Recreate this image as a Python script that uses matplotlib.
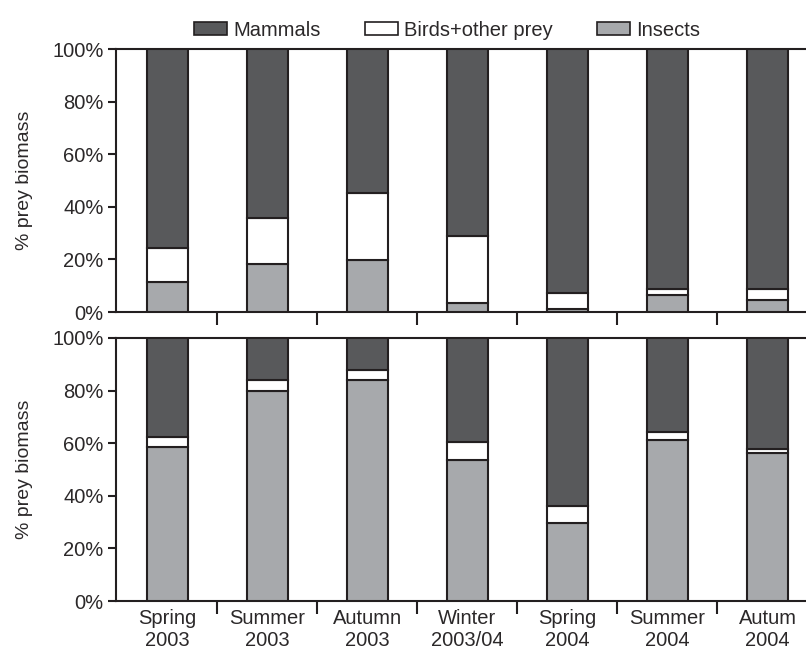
import matplotlib
matplotlib.use("Agg")
import matplotlib.pyplot as plt
import numpy as np
from matplotlib.patches import Patch
from matplotlib.ticker import FixedLocator

plt.rcParams["font.family"] = ["Liberation Sans Narrow", "Liberation Sans", "DejaVu Sans"]

seasons = ["Spring\n2003", "Summer\n2003", "Autumn\n2003", "Winter\n2003/04",
           "Spring\n2004", "Summer\n2004", "Autum\n2004"]

# % prey biomass per season, upper panel
top_insects = [11.3, 18.1, 19.9, 3.4, 1.3, 6.4, 4.7]
top_birds = [13.1, 17.7, 25.5, 25.5, 6.0, 2.5, 4.2]

# lower panel
bot_insects = [58.6, 79.8, 84.1, 53.5, 29.8, 61.4, 56.3]
bot_birds = [3.7, 4.2, 3.6, 7.0, 6.3, 2.7, 1.6]

labels = ["Mammals", "Birds+other prey", "Insects"]
colors = {"Mammals": "#58595b", "Birds+other prey": "#ffffff", "Insects": "#a7a9ac"}
EDGE = "#231f20"
TEXT = "#2b2829"


def draw_panel(ax, insects, birds, show_labels):
    x = np.arange(len(seasons))
    insects = np.array(insects)
    birds = np.array(birds)
    mammals = 100 - insects - birds
    kw = dict(width=0.41, edgecolor=EDGE, linewidth=1.5, zorder=3)
    ax.bar(x, insects, color=colors["Insects"], **kw)
    ax.bar(x, birds, bottom=insects, color=colors["Birds+other prey"], **kw)
    ax.bar(x, mammals, bottom=insects + birds, color=colors["Mammals"], **kw)

    ax.set_xlim(-0.515, 6.385)
    ax.set_ylim(0, 100)
    ax.set_yticks([0, 20, 40, 60, 80, 100])
    ax.set_yticklabels([f"{v}%" for v in range(0, 101, 20)])
    ax.set_ylabel("% prey biomass", fontsize=14, color=TEXT, labelpad=14)

    ax.set_xticks(x)
    ax.xaxis.set_minor_locator(FixedLocator(np.arange(0.5, 6, 1.0)))
    ax.tick_params(axis="x", which="major", length=0, pad=6, labelsize=14.5)
    ax.tick_params(axis="x", which="minor", length=9, width=1.5, color=EDGE, direction="out")
    ax.tick_params(axis="y", length=6, width=1.5, color=EDGE, direction="out", labelsize=14.5,
                   labelcolor=TEXT, pad=3)
    if show_labels:
        ax.set_xticklabels(seasons, linespacing=1.2, color=TEXT)
    else:
        ax.set_xticklabels([])

    ax.spines["right"].set_visible(False)
    for side in ("left", "top", "bottom"):
        ax.spines[side].set_color(EDGE)
        ax.spines[side].set_linewidth(1.5)


fig = plt.figure(figsize=(8.06, 6.51), dpi=100)
ax_top = fig.add_axes([0.1439, 0.5207, 0.8561, 0.404])
ax_bot = fig.add_axes([0.1439, 0.0768, 0.8561, 0.404])

draw_panel(ax_top, top_insects, top_birds, show_labels=False)
draw_panel(ax_bot, bot_insects, bot_birds, show_labels=True)

handles = [Patch(facecolor=colors[l], edgecolor=EDGE, linewidth=1.2) for l in labels]
ax_top.legend(handles, labels, loc="lower center", bbox_to_anchor=(0.48, 0.99),
              ncol=3, frameon=False, fontsize=14.5, handlelength=1.65, handleheight=0.65,
              handletextpad=0.3, columnspacing=2.2, borderaxespad=0.2, labelcolor=TEXT)

fig.savefig("out.png", dpi=100)
